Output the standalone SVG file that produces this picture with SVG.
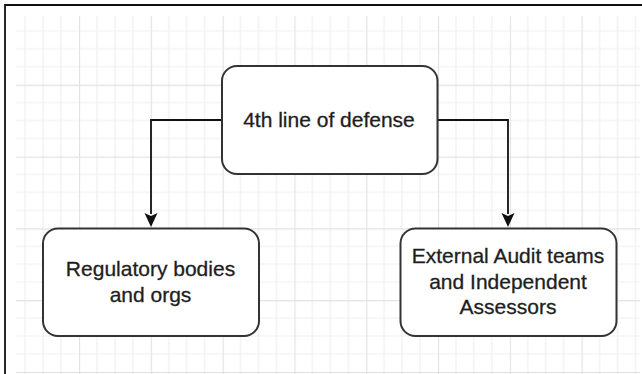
<svg xmlns="http://www.w3.org/2000/svg" width="642" height="374" viewBox="0 0 642 374">
  <style>
    .node rect { fill: #ffffff; stroke: #333333; stroke-width: 2; }
    .node text { font-family: "Liberation Sans", Arial, Helvetica, sans-serif; font-size: 21px; fill: #1e1e1e; stroke: #1e1e1e; stroke-width: 0.3; text-anchor: middle; }
    .edge { fill: none; stroke: #111111; stroke-width: 1.8; }
  </style>
  <defs>
    <pattern id="grid" patternUnits="userSpaceOnUse" x="7.2" y="12.9" width="71.8" height="71.8">
      <path d="M17.95 0V71.8M35.9 0V71.8M53.85 0V71.8M0 17.95H71.8M0 35.9H71.8M0 53.85H71.8" stroke="#efefef" stroke-width="1.2" fill="none"/>
      <path d="M0.5 0V71.8M0 0.5H71.8" stroke="#e2e2e2" stroke-width="1.3" fill="none"/>
    </pattern>
  </defs>
  <rect x="0" y="0" width="642" height="374" fill="#ffffff"/>
  <rect x="16" y="16" width="624" height="358" fill="url(#grid)"/>
  <path d="M5 374V5H642" fill="none" stroke="#111111" stroke-width="1.8"/>

  <g id="connectors">
    <path class="edge" d="M222 120H151V214"/>
    <path class="edge" d="M437.5 120H508V214"/>
    <path d="M144.5 213 L151 227 L157.5 213 L151 216 Z" fill="#111111"/>
    <path d="M501.5 213 L508 227 L514.5 213 L508 216 Z" fill="#111111"/>
  </g>

  <g id="node-top" class="node">
    <rect x="222" y="66" width="215.5" height="108" rx="15" ry="15"/>
    <text x="329" y="127">4th line of defense</text>
  </g>

  <g id="node-regulatory" class="node">
    <rect x="43" y="228.5" width="216" height="107.5" rx="15" ry="15"/>
    <text x="150.5" y="276">Regulatory bodies</text>
    <text x="150.5" y="302">and orgs</text>
  </g>

  <g id="node-external" class="node">
    <rect x="400.5" y="228.5" width="216" height="107.5" rx="15" ry="15"/>
    <text x="508" y="263">External Audit teams</text>
    <text x="508" y="288.5">and Independent</text>
    <text x="508" y="314">Assessors</text>
  </g>
</svg>
